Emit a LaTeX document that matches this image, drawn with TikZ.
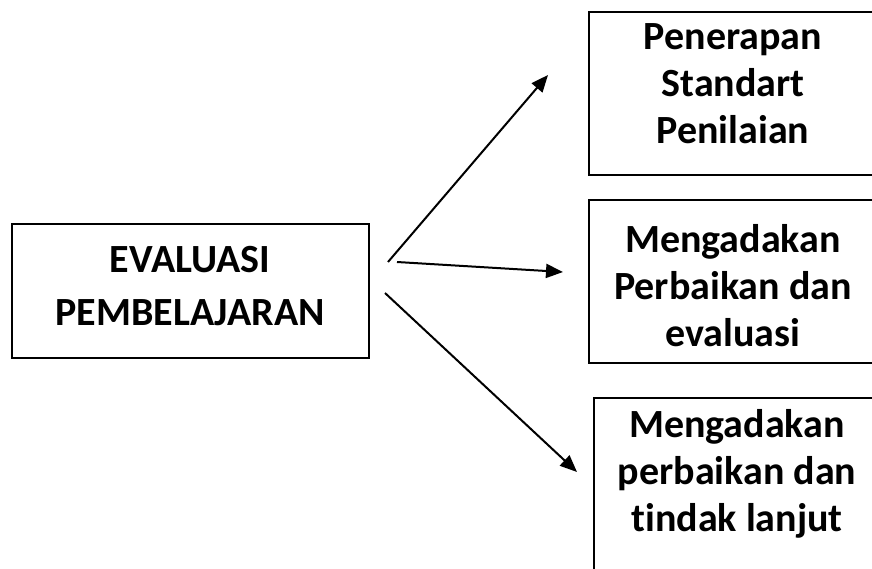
\documentclass[tikz,border=0pt]{standalone}
\usepackage{fontspec}
\setmainfont{Carlito}[Ligatures=NoCommon]
\usetikzlibrary{arrows.meta}
\tikzset{
  box/.style={draw, line width=1.4pt, inner sep=0pt},
  lbl/.style={align=center, font=\bfseries\fontsize{40}{47}\selectfont, inner sep=0pt},
  lblL/.style={align=center, font=\bfseries\fontsize{40}{53}\selectfont, inner sep=0pt},
  arr/.style={line width=2pt, -{Triangle[length=17pt,width=14pt]}}
}
\begin{document}
\begin{tikzpicture}[x=1pt,y=-1pt]
\clip (0,0) rectangle (872,569);
\fill[white] (0,0) rectangle (872,569);
% left box
\draw[box] (12,224) rectangle (369,358);
\node[lblL] (eval) at (190,286) {EVALUASI\\PEMBELAJARAN};
% top right box
\draw[box] (589,12) rectangle (878,175);
\node[lbl] (b1) at (733,84) {Penerapan\\Standart\\Penilaian};
% middle right box
\draw[box] (589,200) rectangle (878,363);
\node[lbl] (b2) at (733,286) {Mengadakan\\Perbaikan dan\\evaluasi};
% bottom right box
\draw[box] (594,398) rectangle (880,600);
\node[lbl] (b3) at (737,474) {Mengadakan\\perbaikan dan\\tindak lanjut};
% arrows
\coordinate (s1) at (388,262);
\coordinate (e1) at (548,75);
\coordinate (s2) at (397,262);
\coordinate (e2) at (563,272);
\coordinate (s3) at (385,293);
\coordinate (e3) at (577,472);
\draw[arr] (s1) -- (e1);
\draw[arr] (s2) -- (e2);
\draw[arr] (s3) -- (e3);
\end{tikzpicture}
\end{document}
